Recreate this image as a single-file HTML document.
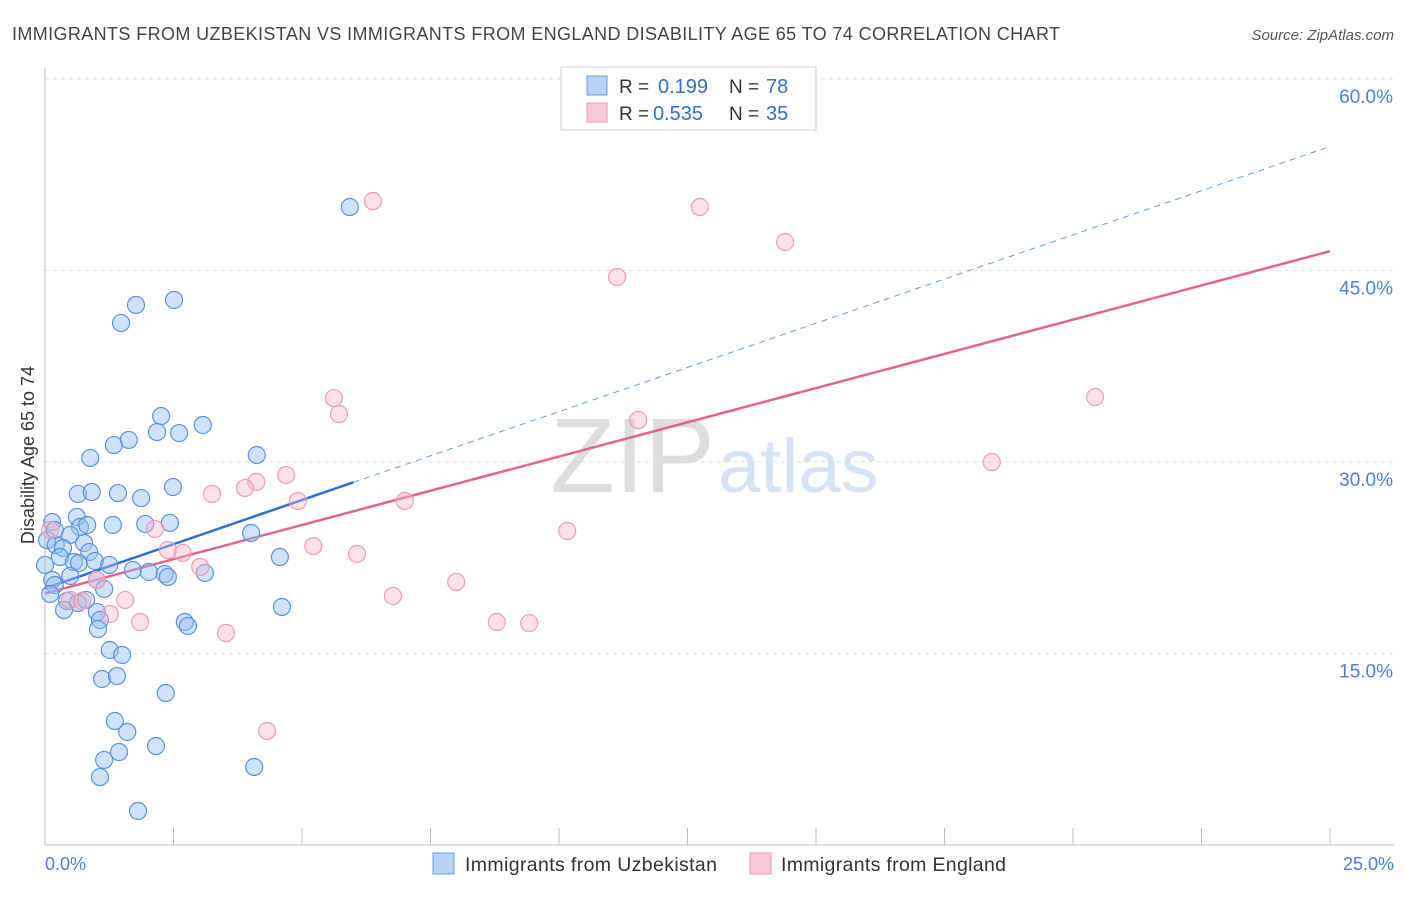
<!DOCTYPE html>
<html><head><meta charset="utf-8"><style>
body{margin:0;background:#fff;font-family:"Liberation Sans",sans-serif}
svg text{font-family:"Liberation Sans",sans-serif}
</style></head><body>
<svg id="chart" width="1406" height="892">
<text x="12" y="40" font-size="18" fill="#444" textLength="1048">IMMIGRANTS FROM UZBEKISTAN VS IMMIGRANTS FROM ENGLAND DISABILITY AGE 65 TO 74 CORRELATION CHART</text>
<text x="1394" y="40" font-size="15" fill="#555" font-style="italic" text-anchor="end">Source: ZipAtlas.com</text>
<text x="715" y="492" font-size="106" fill="#ddd" font-family="Liberation Serif" text-anchor="end">ZIP</text>
<text x="718" y="492" font-size="76" fill="#d5e3f3">atlas</text>
<g id="grid"></g><g id="axes"></g><g id="lines"></g><g id="pts"></g>
<text transform="translate(34,455) rotate(-90)" font-size="18" fill="#333" text-anchor="middle">Disability Age 65 to 74</text>
<text x="45" y="870" font-size="18" fill="#4a7fd6">0.0%</text>
<text x="1394" y="870" font-size="18" fill="#4a7fd6" text-anchor="end">25.0%</text>
<g>
<rect x="561" y="67" width="255" height="63" fill="#fff" stroke="#ccc"/>
<rect x="587" y="76" width="20" height="19" fill="#b8d3f5" stroke="#6a9be0"/>
<rect x="587" y="103" width="20" height="19" fill="#f9c9d7" stroke="#e89ab2"/>
<text x="619" y="93" font-size="19" fill="#333">R =</text>
<text x="658" y="93" font-size="20" fill="#2f6fd0">0.199</text>
<text x="729" y="93" font-size="19" fill="#333">N =</text>
<text x="766" y="93" font-size="20" fill="#2f6fd0">78</text>
<text x="619" y="120" font-size="19" fill="#333">R =</text>
<text x="653" y="120" font-size="20" fill="#2f6fd0">0.535</text>
<text x="729" y="120" font-size="19" fill="#333">N =</text>
<text x="766" y="120" font-size="20" fill="#2f6fd0">35</text>
</g>
<g>
<rect x="433" y="853" width="21" height="21" fill="#b8d3f5" stroke="#6a9be0"/>
<text x="465" y="871" font-size="19.5" fill="#333" textLength="252">Immigrants from Uzbekistan</text>
<rect x="750" y="853" width="21" height="21" fill="#f9c9d7" stroke="#e89ab2"/>
<text x="781" y="871" font-size="19.5" fill="#333" textLength="225">Immigrants from England</text>
</g>
</svg>
<script>
const yTicks=[15,30,45,60];
const blueX=[5.93,1.77,2.51,1.48,2.26,2.18,2.61,3.07,1.63,1.34,0.88,4.12,2.49,0.64,0.91,1.42,1.87,0.14,0.62,0.68,0.82,1.32,1.95,2.43,4.01,0.49,0.04,0.21,0.35,0.76,0.86,0.29,0.56,0.66,0.97,1.25,4.57,1.71,2.02,2.33,2.39,3.11,0.14,0.49,1.01,1.15,0.19,0.10,0.43,0.64,0.80,0.37,1.01,4.61,1.07,2.72,2.78,1.03,1.26,1.50,1.11,1.40,2.35,1.36,1.60,2.16,1.44,1.15,4.07,1.07,1.81,0,0.19];
const blueY=[49.96,42.29,42.68,40.88,33.59,32.34,32.26,32.89,31.72,31.32,30.31,30.54,28.03,27.49,27.64,27.56,27.17,25.29,25.69,24.9,25.06,25.06,25.14,25.22,24.43,24.28,23.88,23.49,23.26,23.65,22.94,22.55,22.16,22.08,22.24,21.93,22.55,21.53,21.38,21.22,20.99,21.3,20.75,21.07,20.75,20.05,20.36,19.66,19.11,18.95,19.19,18.4,18.25,18.64,17.62,17.46,17.15,16.91,15.27,14.88,13.0,13.23,11.9,9.71,8.85,7.75,7.28,6.66,6.11,5.32,2.66,21.93,24.67];
const pinkX=[6.38,12.74,11.13,14.40,20.43,18.42,5.62,5.72,11.54,4.69,4.11,3.89,3.25,4.92,7.00,10.16,2.14,0.10,5.22,2.39,2.68,6.07,3.02,1.01,8.00,6.77,1.56,0.49,0.72,1.26,1.85,8.79,9.42,3.52,4.32];
const pinkY=[50.43,49.96,44.48,47.22,35.08,29.99,35.0,33.75,33.28,28.97,28.43,27.96,27.49,26.94,26.94,24.59,24.75,24.67,23.41,23.1,22.87,22.79,21.77,20.75,20.6,19.5,19.19,19.19,19.11,18.09,17.46,17.46,17.38,16.6,8.93];
const blueLine=[0,20.1,6.0,28.4,25,54.7];
const pinkLine=[0,19.7,25,46.5];
const X=v=>45+v*51.4, Y=v=>845-v*12.77;
const NS='http://www.w3.org/2000/svg';
function mk(p,t,a){const e=document.createElementNS(NS,t);for(const k in a)e.setAttribute(k,a[k]);document.getElementById(p).appendChild(e);return e;}
yTicks.forEach(t=>{
 const g=mk('grid','line',{x1:45,x2:1394,y1:Y(t),y2:Y(t),stroke:'#ddd','stroke-dasharray':'4 4'});
 
 
 const l=mk('grid','text',{x:1393,y:Y(t)+24,'font-size':19,fill:'#4a7fd6','text-anchor':'end'});
 l.textContent=t.toFixed(1)+'%';
 
 
});
const ax=mk('axes','line',{x1:45,x2:45,y1:68,y2:845,stroke:'#bbb'});


const bx=mk('axes','line',{x1:45,x2:1394,y1:845,y2:845,stroke:'#bbb'});


for(let i=0;i<=10;i++){const t=mk('axes','line',{x1:X(i*2.5),x2:X(i*2.5),y1:828,y2:845,stroke:'#bbb'});
 
 }
function pts(xs,ys,fill,stroke,name){xs.forEach((x,i)=>{const c=mk('pts','circle',{cx:X(x),cy:Y(ys[i]),r:8.5,fill:fill,stroke:stroke,'stroke-width':1.2});
 
 });}
pts(blueX,blueY,'rgba(150,190,240,0.45)','#5b93df','uzbekistan-point');
pts(pinkX,pinkY,'rgba(248,180,200,0.4)','#eb9db5','england-point');
const b1=mk('lines','line',{x1:X(blueLine[0]),y1:Y(blueLine[1]),x2:X(blueLine[2]),y2:Y(blueLine[3]),stroke:'#2f6fd0','stroke-width':2.5});


const b2=mk('lines','line',{x1:X(blueLine[2]),y1:Y(blueLine[3]),x2:X(blueLine[4]),y2:Y(blueLine[5]),stroke:'#6a9be0','stroke-width':1,'stroke-dasharray':'6 5'});


const p1=mk('lines','line',{x1:X(pinkLine[0]),y1:Y(pinkLine[1]),x2:X(pinkLine[2]),y2:Y(pinkLine[3]),stroke:'#e4648f','stroke-width':2.5});


</script>
</body></html>
